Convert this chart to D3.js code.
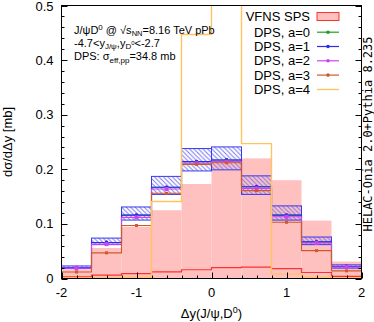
<!DOCTYPE html>
<html>
<head>
<meta charset="utf-8">
<script src="https://cdn.jsdelivr.net/npm/d3@7"></script>
<style>
  body { margin: 0; background: #fff; }
  svg text { font-family: "Liberation Sans", Arial, sans-serif; }
</style>
</head>
<body>
<div id="chart"></div>
<script>
// bin edges of delta y
var binEdges = [-2, -1.6, -1.2, -0.8, -0.4, 0, 0.4, 0.8, 1.2, 1.6, 2]

// VFNS SPS band
var spsHigh = [0.016, 0.056, 0.095, 0.125, 0.173, 0.218, 0.220, 0.180, 0.106, 0.031]
var spsLow  = [0.003, 0.006, 0.009, 0.012, 0.016, 0.020, 0.021, 0.018, 0.011, 0.004]

// DPS curves
var dpsA0 = [0.020, 0.066, 0.116, 0.167, 0.214, 0.217, 0.168, 0.116, 0.067, 0.022]
var dpsA1 = [0.020, 0.066, 0.116, 0.167, 0.214, 0.217, 0.168, 0.116, 0.067, 0.022]
var dpsA1Lo = [0.018, 0.062, 0.107, 0.154, 0.197, 0.199, 0.154, 0.107, 0.062, 0.019]
var dpsA1Hi = [0.023, 0.074, 0.131, 0.187, 0.238, 0.241, 0.188, 0.133, 0.076, 0.025]
var dpsA2 = [0.019, 0.063, 0.112, 0.164, 0.211, 0.214, 0.165, 0.113, 0.065, 0.021]
var dpsA3 = [0.012, 0.047, 0.097, 0.156, 0.209, 0.212, 0.161, 0.103, 0.051, 0.014]
var dpsA4 = [0.001, 0.001, 0.003, 0.141, 0.447, 0.620, 0.247, 0.008, 0.003, 0.001]

var xTicks = [-2, -1, 0, 1, 2]
var yTicks = [0, 0.1, 0.2, 0.3, 0.4, 0.5]

var width = 374, height = 322
var margin = { top: 5.5, left: 61.5, right: 12.5, bottom: 43.5 }

var svg = d3.select('#chart')
  .append('svg')
  .attr('width', width)
  .attr('height', height)

var xScale = d3.scaleLinear().domain([-2, 2]).range([margin.left, width - margin.right])
var yScale = d3.scaleLinear().domain([0, 0.5]).range([height - margin.bottom, margin.top])

var x0 = xScale(-2), x1 = xScale(2), y0 = yScale(0), y1 = yScale(0.5)

var defs = svg.append('defs')
defs.append('clipPath').attr('id', 'plotclip')
  .append('rect').attr('x', x0).attr('y', y1).attr('width', x1 - x0).attr('height', y0 - y1)

var hatch = defs.append('pattern')
  .attr('id', 'hatch')
  .attr('patternUnits', 'userSpaceOnUse')
  .attr('width', 4.5).attr('height', 4.5)
hatch.append('path')
  .attr('d', 'M-1,-1 L5.5,5.5 M-1,3.5 L1,5.5 M3.5,-1 L5.5,1')
  .attr('stroke', '#7878f0')
  .attr('stroke-width', 1)

var plot = svg.append('g').attr('clip-path', 'url(#plotclip)')

function stepPoints(vals) {
  var pts = vals.map(function(v, i) { return [binEdges[i], v] })
  pts.push([binEdges[binEdges.length - 1], vals[vals.length - 1]])
  return pts
}
var stepLine = d3.line()
  .x(function(d) { return xScale(d[0]) })
  .y(function(d) { return yScale(d[1]) })
  .curve(d3.curveStepAfter)

function binMid(i) { return (binEdges[i] + binEdges[i + 1]) / 2 }

// SPS fill
plot.selectAll('.sps')
  .data(spsHigh)
  .enter()
  .append('rect')
  .attr('class', 'sps')
  .attr('x', function(d, i) { return xScale(binEdges[i]) })
  .attr('width', function(d, i) { return xScale(binEdges[i + 1]) - xScale(binEdges[i]) })
  .attr('y', function(d) { return yScale(d) })
  .attr('height', function(d) { return y0 - yScale(d) })
  .attr('fill', '#ffc0c0')

plot.append('path')
  .attr('d', stepLine(stepPoints(spsLow)))
  .attr('fill', 'none')
  .attr('stroke', '#ff3030')
  .attr('stroke-width', 1.2)

function drawCurve(vals, color, marker, sw) {
  plot.append('path')
    .attr('d', stepLine(stepPoints(vals)))
    .attr('fill', 'none')
    .attr('stroke', color)
    .attr('stroke-width', sw || 1.1)
  if (marker === 'circle') {
    plot.selectAll(null).data(vals).enter()
      .append('circle')
      .attr('cx', function(d, i) { return xScale(binMid(i)) })
      .attr('cy', function(d) { return yScale(d) })
      .attr('r', 1.9)
      .attr('fill', color)
  } else if (marker) {
    var s = marker
    plot.selectAll(null).data(vals).enter()
      .append('rect')
      .attr('x', function(d, i) { return xScale(binMid(i)) - s / 2 })
      .attr('y', function(d) { return yScale(d) - s / 2 })
      .attr('width', s).attr('height', s)
      .attr('fill', color)
  }
}

// a=0
drawCurve(dpsA0, '#20a020', 'circle')

// a=1 with hatched band
plot.selectAll('.band')
  .data(dpsA1Hi)
  .enter()
  .append('rect')
  .attr('class', 'band')
  .attr('x', function(d, i) { return xScale(binEdges[i]) })
  .attr('width', function(d, i) { return xScale(binEdges[i + 1]) - xScale(binEdges[i]) })
  .attr('y', function(d) { return yScale(d) })
  .attr('height', function(d, i) { return yScale(dpsA1Lo[i]) - yScale(d) })
  .attr('fill', 'url(#hatch)')
  .attr('stroke', '#3a3aee')
  .attr('stroke-width', 1)
drawCurve(dpsA1, '#2a2aee', 'circle')

// a=2
drawCurve(dpsA2, '#cc44f0', 4)
// a=3
drawCurve(dpsA3, '#cf5a28', 3)
// a=4
drawCurve(dpsA4, '#ffc45e', null, 1.4)

// frame
svg.append('rect')
  .attr('x', x0).attr('y', y1)
  .attr('width', x1 - x0).attr('height', y0 - y1)
  .attr('fill', 'none')
  .attr('stroke', '#000')
  .attr('stroke-width', 1)

// ticks
var yMinor = d3.range(0, 0.5001, 0.02)
yMinor.forEach(function(v) {
  var major = Math.abs(v * 10 - Math.round(v * 10)) < 1e-6
  var len = major ? 6 : 3
  var yy = Math.round(yScale(v)) + 0.5
  svg.append('line').attr('x1', x0).attr('x2', x0 + len).attr('y1', yy).attr('y2', yy).attr('stroke', '#000')
  svg.append('line').attr('x1', x1).attr('x2', x1 - len).attr('y1', yy).attr('y2', yy).attr('stroke', '#000')
})
var xMinor = d3.range(-2, 2.0001, 0.2)
xMinor.forEach(function(v) {
  var major = Math.abs(v - Math.round(v)) < 1e-6
  var len = major ? 6 : 3
  var xx = Math.round(xScale(v)) + 0.5
  svg.append('line').attr('x1', xx).attr('x2', xx).attr('y1', y0).attr('y2', y0 - len).attr('stroke', '#000')
})

svg.selectAll('.ylab').data(yTicks).enter()
  .append('text')
  .attr('x', x0 - 8)
  .attr('y', function(d) { return Math.max(yScale(d) + 4.5, 11) })
  .attr('text-anchor', 'end')
  .attr('font-size', 13)
  .text(function(d) { return d === 0 ? '0' : d3.format('.1f')(d) })

svg.selectAll('.xlab').data(xTicks).enter()
  .append('text')
  .attr('x', function(d) { return xScale(d) })
  .attr('y', y0 + 18.5)
  .attr('text-anchor', 'middle')
  .attr('font-size', 13)
  .text(function(d) { return d })

// axis titles
var xt = svg.append('text')
  .attr('x', (x0 + x1) / 2)
  .attr('y', 318)
  .attr('text-anchor', 'middle')
  .attr('font-size', 13)
xt.append('tspan').text('Δy(J/ψ,D')
xt.append('tspan').attr('dy', -5).attr('font-size', 9).text('0')
xt.append('tspan').attr('dy', 5).text(')')

svg.append('text')
  .attr('transform', 'translate(12,' + (y0 + y1) / 2 + ') rotate(-90)')
  .attr('text-anchor', 'middle')
  .attr('font-size', 13)
  .text('dσ/dΔy [mb]')

svg.append('text')
  .attr('transform', 'translate(372,' + ((y0 + y1) / 2 - 8) + ') rotate(-90)')
  .attr('text-anchor', 'middle')
  .attr('font-size', 12)
  .style('font-family', '"DejaVu Sans Mono", monospace')
  .text('HELAC-Onia 2.0+Pythia 8.235')

// info text
var t1 = svg.append('text').attr('x', 74).attr('y', 34).attr('font-size', 11)
t1.append('tspan').text('J/ψD')
t1.append('tspan').attr('dy', -4).attr('font-size', 8).text('0')
t1.append('tspan').attr('dy', 4).text(' @ √s')
t1.append('tspan').attr('dy', 2).attr('font-size', 7.5).text('NN')
t1.append('tspan').attr('dy', -2).text('=8.16 TeV pPb')

var t2 = svg.append('text').attr('x', 74).attr('y', 46.5).attr('font-size', 11)
t2.append('tspan').text('-4.7<y')
t2.append('tspan').attr('dy', 2.5).attr('font-size', 8).text('J/ψ')
t2.append('tspan').attr('dy', -2.5).text(',y')
t2.append('tspan').attr('dy', 2.5).attr('font-size', 8).text('D')
t2.append('tspan').attr('dy', -4).attr('font-size', 6).text('0')
t2.append('tspan').attr('dy', 1.5).text('<-2.7')

var t3 = svg.append('text').attr('x', 74).attr('y', 59.5).attr('font-size', 11)
t3.append('tspan').text('DPS: σ')
t3.append('tspan').attr('dy', 3).attr('font-size', 8).text('eff,pp')
t3.append('tspan').attr('dy', -3).text('=34.8 mb')

// legend
var legendNames = ['VFNS SPS', 'DPS, a=0', 'DPS, a=1', 'DPS, a=2', 'DPS, a=3', 'DPS, a=4']
var legendColors = ['#ff3030', '#20a020', '#2a2aee', '#cc44f0', '#cf5a28', '#ffc45e']
var legendY = [21, 36.7, 51, 65.3, 79.6, 94]

var legend = svg.append('g')
legendNames.forEach(function(name, i) {
  legend.append('text')
    .attr('x', 310)
    .attr('y', legendY[i])
    .attr('text-anchor', 'end')
    .attr('font-size', 13)
    .text(name)
  var ly = legendY[i] - 4.5
  if (i === 0) {
    legend.append('rect')
      .attr('x', 317).attr('y', ly - 4)
      .attr('width', 22).attr('height', 8)
      .attr('fill', '#ffc0c0')
      .attr('stroke', '#ff3030')
  } else {
    legend.append('line')
      .attr('x1', 317).attr('x2', 339)
      .attr('y1', ly).attr('y2', ly)
      .attr('stroke', legendColors[i])
      .attr('stroke-width', i === 5 ? 1.4 : 1.2)
    if (i < 5) {
      legend.append('circle').attr('cx', 328).attr('cy', ly).attr('r', 1.8).attr('fill', legendColors[i])
    }
  }
})
</script>
</body>
</html>
